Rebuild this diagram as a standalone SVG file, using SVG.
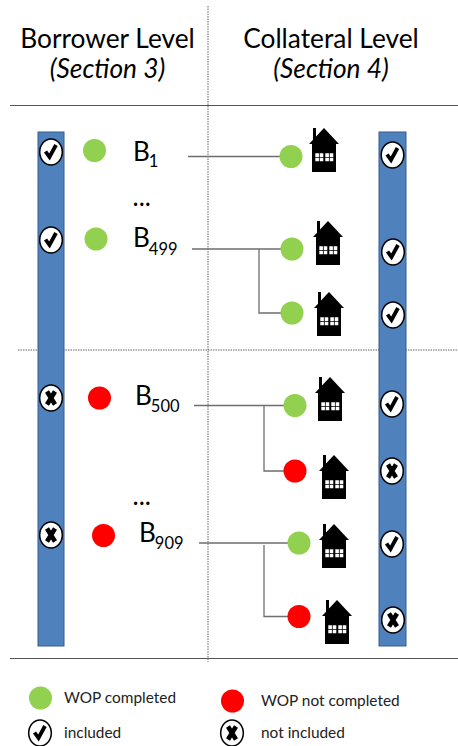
<svg xmlns="http://www.w3.org/2000/svg" width="458" height="746" viewBox="0 0 458 746">
<style>
text{font-family:"Lato","Open Sans","Liberation Sans",sans-serif;fill:#000}
.t{font-size:26.300px;text-anchor:middle}
.i{font-style:italic}
.b{font-size:26px}
.s{font-size:16.500px}
.l{font-size:15.400px;fill:#222}
.g{fill:#92d050}
.r{fill:#ff0000}
.bar{fill:#4f81bd;stroke:#385d8a;stroke-width:1}
.c{fill:none;stroke:#6e6e6e;stroke-width:1.3}
.d{fill:none;stroke:#666;stroke-width:1;stroke-dasharray:1.500 1}
.h{fill:none;stroke:#555;stroke-width:1.200}
.o{fill:#fff;stroke:#000;stroke-width:1.500}
.m{fill:none;stroke:#000;stroke-width:3.800}
.x{fill:none;stroke:#000;stroke-width:4.600}
</style>
<defs>
<g id="ck"><ellipse class="o" rx="11.300" ry="13"/><path class="m" d="M-5.500 -0.500L-1.500 5L5 -7"/></g>
<g id="xx"><ellipse class="o" rx="11.300" ry="13"/><path class="x" d="M-4 -6.500L4 6.500M4 -6.500L-4 6.500"/></g>
<g id="hs"><path d="M-11 0H-8V12H-11ZM0 0L15 16H-15Z" fill="#000"/><rect x="-12" y="16" width="24" height="28" fill="#000"/><path d="M-8.700 25.300h3.600v3.600h-3.600zM-4.300 25.300h3.600v3.600h-3.600zM-8.700 29.700h3.600v3.600h-3.600zM-4.300 29.700h3.600v3.600h-3.600zM1.300 25.300h3.600v3.600h-3.600zM5.700 25.300h3.600v3.600h-3.600zM1.300 29.700h3.600v3.600h-3.600zM5.700 29.700h3.600v3.600h-3.600z" fill="#fff"/></g>
</defs>
<g id="rules">
<path class="h" d="M10 105.500H458M10 658.500H458"/>
<path class="d" d="M208 6V662M18 350H458"/>
</g>
<g id="titles">
<text class="t" x="107.500" y="48">Borrower Level</text>
<text class="t i" x="107.500" y="78">(Section 3)</text>
<text class="t" x="331" y="48">Collateral Level</text>
<text class="t i" x="331" y="78">(Section 4)</text>
</g>
<g id="left-bar"><rect class="bar" x="38" y="132" width="26" height="514"/>
<use href="#ck" x="51" y="152"/><use href="#ck" x="51" y="240"/><use href="#xx" x="51" y="398"/><use href="#xx" x="51" y="535"/></g>
<g id="right-bar"><rect class="bar" x="379" y="132" width="27" height="514"/>
<use href="#ck" x="392.500" y="155"/><use href="#ck" x="393" y="252"/><use href="#ck" x="393" y="315"/><use href="#ck" x="392" y="404"/><use href="#xx" x="392" y="471"/><use href="#ck" x="392" y="544"/><use href="#xx" x="393" y="620"/></g>
<g id="connectors">
<path class="c" d="M188 156.500H281"/>
<path class="c" d="M192 249H282M259 249V313H282"/>
<path class="c" d="M194 405.500H285M264 405.500V471H285"/>
<path class="c" d="M199 543H289M264 545V616.500H289"/>
</g>
<g id="b1"><circle class="g" cx="94.500" cy="150.500" r="11.500"/><text class="b" x="133" y="161">B<tspan class="s" dy="6" dx="-1">1</tspan></text></g>
<g id="dots1"><text class="b" x="132.500" y="206">...</text></g>
<g id="b499"><circle class="g" cx="96" cy="239" r="11.500"/><text class="b" x="133" y="247">B<tspan class="s" dy="8" dx="-1">499</tspan></text></g>
<g id="b500"><circle class="r" cx="99.500" cy="398" r="11.500"/><text class="b" x="135" y="405">B<tspan class="s" dy="7" dx="-1">500</tspan></text></g>
<g id="dots2"><text class="b" x="132.500" y="505">...</text></g>
<g id="b909"><circle class="r" cx="103.500" cy="535.500" r="11.500"/><text class="b" x="139" y="542">B<tspan class="s" dy="7" dx="-1">909</tspan></text></g>
<g id="c1"><circle class="g" cx="291" cy="156.500" r="11.500"/><use href="#hs" x="324" y="128"/></g>
<g id="c2"><circle class="g" cx="292" cy="249" r="11.500"/><use href="#hs" x="328" y="221"/></g>
<g id="c3"><circle class="g" cx="292" cy="313" r="11.500"/><use href="#hs" x="329" y="292"/></g>
<g id="c4"><circle class="g" cx="295" cy="405.500" r="11.500"/><use href="#hs" x="330" y="377"/></g>
<g id="c5"><circle class="r" cx="295" cy="471" r="11.500"/><use href="#hs" x="334" y="455"/></g>
<g id="c6"><circle class="g" cx="299" cy="543" r="11.500"/><use href="#hs" x="334" y="524"/></g>
<g id="c7"><circle class="r" cx="299" cy="616.500" r="11.500"/><use href="#hs" x="337" y="600"/></g>
<g id="legend">
<circle class="g" cx="40.500" cy="698" r="11.500"/><text class="l" x="64" y="703">WOP completed</text>
<circle class="r" cx="232.500" cy="701" r="11.500"/><text class="l" x="261" y="706">WOP not completed</text>
<use href="#ck" x="40" y="733"/><text class="l" x="64" y="738">included</text>
<use href="#xx" x="232" y="733"/><text class="l" x="261" y="738">not included</text>
</g>
</svg>
